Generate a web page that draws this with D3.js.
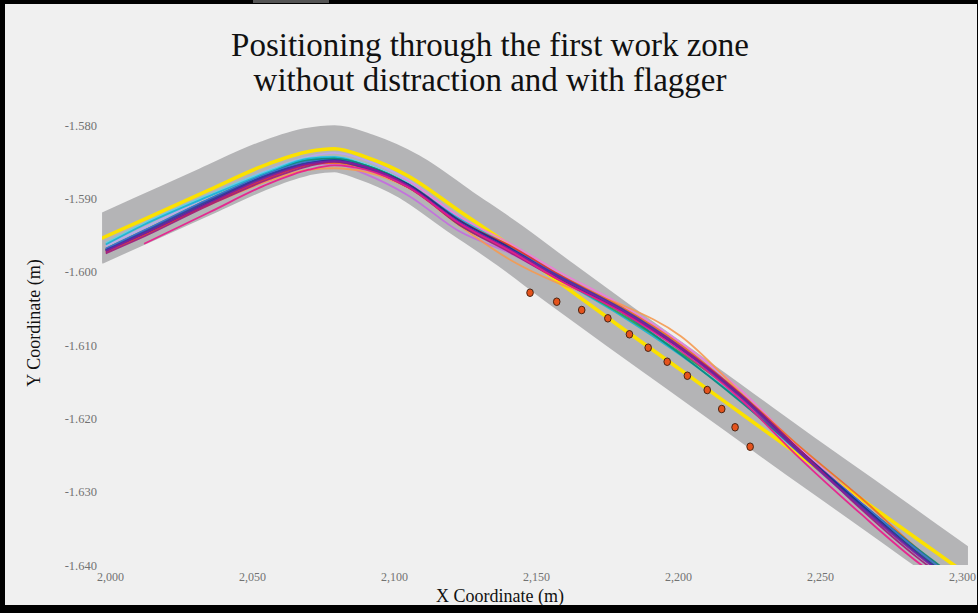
<!DOCTYPE html>
<html>
<head>
<meta charset="utf-8">
<script src="https://cdn.jsdelivr.net/npm/d3@7"></script>
<style>
  html, body { margin: 0; padding: 0; background: #000; }
  #chart { width: 978px; height: 613px; }
</style>
</head>
<body>
<div id="chart"></div>
<script>
// road centre line (yellow), x / y coordinates in metres
const roadX = [1994, 2012, 2035, 2056, 2070, 2079, 2090, 2105, 2123, 2141, 2158, 2180, 2201, 2222, 2243, 2264, 2285, 2308];
const roadY = [-1.59598, -1.59286, -1.58884, -1.58526, -1.58361, -1.58323, -1.58436, -1.58695, -1.59173, -1.59650, -1.60141, -1.60761, -1.61341, -1.61927, -1.62514, -1.63086, -1.63666, -1.64300];

// x stations shared by every driver trajectory
const trackX = [1998.5, 2012, 2035, 2056, 2070, 2079, 2090, 2105, 2123, 2141, 2158, 2180, 2201, 2222, 2243, 2264, 2285, 2305];

// one y array per driver (null = not recorded yet)
const track01 = [null, -1.5962, -1.5919, -1.5880, -1.5861, -1.5855, -1.5861, -1.5885, -1.5934, -1.5972, -1.6011, -1.6055, -1.6108, -1.6174, -1.6255, -1.6329, -1.6398, -1.6450];
const track02 = [-1.5972, -1.5948, -1.5906, -1.5870, -1.5853, -1.5849, -1.5857, -1.5883, -1.5933, -1.5970, -1.6008, -1.6052, -1.6105, -1.6171, -1.6248, -1.6320, -1.6388, -1.6445];
const track03 = [-1.5971, -1.5946, -1.5903, -1.5868, -1.5852, -1.5850, -1.5859, -1.5885, -1.5934, -1.5970, -1.6006, -1.6050, -1.6103, -1.6169, -1.6246, -1.6318, -1.6386, -1.6443];
const track04 = [-1.5963, -1.5936, -1.5897, -1.5864, -1.5846, -1.5844, -1.5855, -1.5881, -1.5928, -1.5966, -1.6009, -1.6060, -1.6114, -1.6176, -1.6248, -1.6316, -1.6382, -1.6439];
const track05 = [-1.5969, -1.5944, -1.5901, -1.5866, -1.5848, -1.5846, -1.5855, -1.5881, -1.5934, -1.5968, -1.6007, -1.6055, -1.6113, -1.6177, -1.6246, -1.6314, -1.6380, -1.6437];
const track06 = [-1.5971, -1.5946, -1.5903, -1.5868, -1.5850, -1.5846, -1.5855, -1.5881, -1.5936, -1.5972, -1.6009, -1.6058, -1.6111, -1.6170, -1.6246, -1.6316, -1.6384, -1.6441];
const track07 = [-1.5969, -1.5948, -1.5909, -1.5876, -1.5861, -1.5859, -1.5864, -1.5886, -1.5937, -1.5984, -1.6016, -1.6045, -1.6088, -1.6165, -1.6246, -1.6316, -1.6386, -1.6443];
const track08 = [-1.5971, -1.5948, -1.5907, -1.5870, -1.5854, -1.5852, -1.5859, -1.5881, -1.5930, -1.5966, -1.6004, -1.6048, -1.6100, -1.6166, -1.6239, -1.6307, -1.6380, -1.6439];
const track09 = [-1.5973, -1.5950, -1.5907, -1.5872, -1.5854, -1.5850, -1.5859, -1.5885, -1.5932, -1.5965, -1.6004, -1.6051, -1.6104, -1.6168, -1.6244, -1.6314, -1.6384, -1.6441];
const track10 = [-1.5969, -1.5944, -1.5903, -1.5868, -1.5854, -1.5853, -1.5867, -1.5896, -1.5945, -1.5975, -1.6010, -1.6054, -1.6105, -1.6168, -1.6244, -1.6316, -1.6384, -1.6441];
const track11 = [-1.5965, -1.5940, -1.5897, -1.5861, -1.5843, -1.5838, -1.5848, -1.5875, -1.5927, -1.5968, -1.6006, -1.6046, -1.6097, -1.6165, -1.6242, -1.6314, -1.6382, -1.6439];
const track12 = [-1.5969, -1.5946, -1.5905, -1.5868, -1.5852, -1.5848, -1.5855, -1.5877, -1.5925, -1.5962, -1.6000, -1.6045, -1.6097, -1.6161, -1.6241, -1.6313, -1.6381, -1.6438];
const track13 = [-1.5975, -1.5952, -1.5909, -1.5874, -1.5856, -1.5850, -1.5857, -1.5883, -1.5936, -1.5974, -1.6011, -1.6054, -1.6103, -1.6167, -1.6244, -1.6322, -1.6392, -1.6447];
const track14 = [-1.5971, -1.5948, -1.5905, -1.5868, -1.5852, -1.5848, -1.5857, -1.5881, -1.5930, -1.5968, -1.6008, -1.6054, -1.6105, -1.6168, -1.6244, -1.6316, -1.6386, -1.6443];
const track15 = [-1.5969, -1.5944, -1.5901, -1.5866, -1.5850, -1.5848, -1.5857, -1.5883, -1.5932, -1.5968, -1.6006, -1.6052, -1.6105, -1.6168, -1.6244, -1.6314, -1.6382, -1.6441];
const track16 = [-1.5961, -1.5934, -1.5895, -1.5862, -1.5845, -1.5843, -1.5853, -1.5879, -1.5930, -1.5967, -1.6008, -1.6056, -1.6108, -1.6170, -1.6246, -1.6316, -1.6382, -1.6439];

const tracks = [track11, track10, track12, track07, track16, track04, track08, track09, track06, track05, track15, track14, track03, track13, track02, track01];
const trackColors = ["#b9a6f2", "#c46be0", "#f07ad8", "#f59a50", "#5fd3e6", "#12b5d6", "#f26b21", "#e0283a",
                     "#2e9d4a", "#08897e", "#3d6fd6", "#1c2a84", "#3a3aa0", "#a0187a", "#7a1fa2", "#ea1a8c"];

// traffic cones of the work zone
const coneX = [2147.9, 2157.3, 2166.1, 2175.3, 2182.9, 2189.5, 2196.2, 2203.3, 2210.3, 2215.4, 2220.1, 2225.4];
const coneY = [-1.60287, -1.60410, -1.60523, -1.60636, -1.60854, -1.61037, -1.61228, -1.61419, -1.61614, -1.61873, -1.62122, -1.62387];

// axis ticks and visible extent of the map
const xTicks = [2000, 2050, 2100, 2150, 2200, 2250, 2300];
const yTicks = [-1.64, -1.63, -1.62, -1.61, -1.60, -1.59, -1.58];
const xView = [1997.2, 2302.1];

const width = 978, height = 613;
const serif = "'Liberation Serif', 'Times New Roman', serif";

const svg = d3.select("#chart")
  .append("svg")
    .attr("width", width)
    .attr("height", height);

// black frame with the light grey page inside
svg.append("rect")
  .attr("width", width).attr("height", height)
  .attr("fill", "#000");
svg.append("rect")
  .attr("x", 5).attr("y", 4)
  .attr("width", 972).attr("height", 601)
  .attr("fill", "#f0f0f0");
svg.append("rect")
  .attr("x", 253).attr("y", 0)
  .attr("width", 76).attr("height", 3)
  .attr("fill", "#555");

// scales
const xScale = d3.scaleLinear().domain([2000, 2300]).range([110, 962]);
const yScale = d3.scaleLinear().domain([-1.64, -1.58]).range([565, 125]);

// title
svg.append("text")
  .attr("x", 490).attr("y", 56)
  .attr("text-anchor", "middle")
  .style("font-family", serif).style("font-size", "33px").attr("fill", "#111")
  .text("Positioning through the first work zone");
svg.append("text")
  .attr("x", 490).attr("y", 91)
  .attr("text-anchor", "middle")
  .style("font-family", serif).style("font-size", "33px").attr("fill", "#111")
  .text("without distraction and with flagger");

// clip everything to the map frame
svg.append("clipPath").attr("id", "map")
  .append("rect")
    .attr("x", xScale(xView[0]))
    .attr("y", yScale(-1.575))
    .attr("width", xScale(xView[1]) - xScale(xView[0]))
    .attr("height", yScale(-1.64) - yScale(-1.575));

const map = svg.append("g").attr("clip-path", "url(#map)");

const road = roadX.map((x, i) => [x, roadY[i]]);
const roadLine = d3.line()
  .x(d => xScale(d[0]))
  .y(d => yScale(d[1]))
  .curve(d3.curveMonotoneX);

// grey road surface
map.append("path")
  .attr("d", roadLine(road))
  .attr("fill", "none")
  .attr("stroke", "#b4b4b6")
  .attr("stroke-width", 47)
  .attr("stroke-linejoin", "round");

// yellow centre line
map.append("path")
  .attr("d", roadLine(road))
  .attr("fill", "none")
  .attr("stroke", "#fbe100")
  .attr("stroke-width", 3.6);

// driver trajectories
const trackLine = d3.line()
  .defined(d => d[1] !== null)
  .x(d => xScale(d[0]))
  .y(d => yScale(d[1]))
  .curve(d3.curveMonotoneX);

map.selectAll(".track")
  .data(tracks)
  .enter().append("path")
    .attr("class", "track")
    .attr("d", t => trackLine(trackX.map((x, i) => [x, t[i]])))
    .attr("fill", "none")
    .attr("stroke", (t, i) => trackColors[i])
    .attr("stroke-width", 1.8)
    .attr("stroke-opacity", 0.9);

// cones
map.selectAll(".cone")
  .data(coneX)
  .enter().append("ellipse")
    .attr("class", "cone")
    .attr("cx", (d, i) => xScale(d))
    .attr("cy", (d, i) => yScale(coneY[i]))
    .attr("rx", 3.3).attr("ry", 3.8)
    .attr("fill", "#e5531c")
    .attr("stroke", "#4a2412")
    .attr("stroke-width", 1);

// axes: labels only, no lines or ticks
const xAxis = svg.append("g")
  .attr("transform", `translate(0,565)`)
  .call(d3.axisBottom(xScale).tickValues(xTicks).tickFormat(d3.format(",")).tickSize(0).tickPadding(7));

const yAxis = svg.append("g")
  .attr("transform", `translate(110,0)`)
  .call(d3.axisLeft(yScale).tickValues(yTicks).tickFormat(d => d.toFixed(3)).tickSize(0).tickPadding(13));

[xAxis, yAxis].forEach(a => {
  a.select(".domain").remove();
  a.selectAll("text")
    .style("font-family", serif)
    .style("font-size", "12.5px")
    .attr("fill", "#727272");
});
// x labels a touch smaller so 2,300 fits inside the frame
xAxis.selectAll("text").style("font-size", "12px");

// axis titles
svg.append("text")
  .attr("x", 500).attr("y", 602)
  .attr("text-anchor", "middle")
  .style("font-family", serif).style("font-size", "18px").attr("fill", "#111")
  .text("X Coordinate (m)");

svg.append("text")
  .attr("transform", "translate(40,323) rotate(-90)")
  .attr("text-anchor", "middle")
  .style("font-family", serif).style("font-size", "18px").attr("fill", "#111")
  .text("Y Coordinate (m)");
</script>
</body>
</html>
